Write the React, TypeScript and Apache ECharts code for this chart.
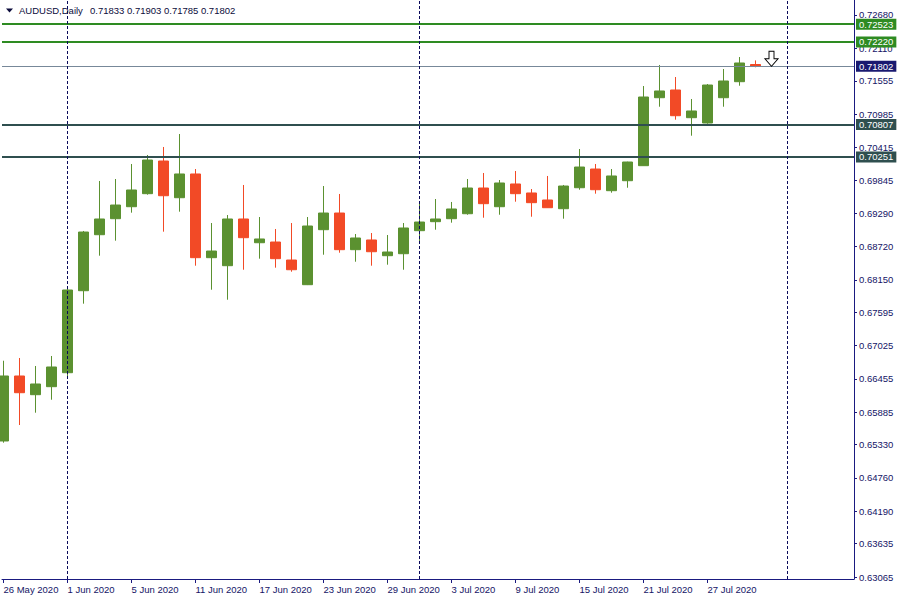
import { useEffect, useRef } from "react";
import * as echarts from "echarts";

// ---- data ----
const SYMBOL = "AUDUSD,Daily";
const DATES = [
  "26 May 2020", "27 May 2020", "28 May 2020", "29 May 2020",
  "1 Jun 2020", "2 Jun 2020", "3 Jun 2020", "4 Jun 2020", "5 Jun 2020",
  "8 Jun 2020", "9 Jun 2020", "10 Jun 2020", "11 Jun 2020", "12 Jun 2020",
  "15 Jun 2020", "16 Jun 2020", "17 Jun 2020", "18 Jun 2020", "19 Jun 2020",
  "22 Jun 2020", "23 Jun 2020", "24 Jun 2020", "25 Jun 2020", "26 Jun 2020",
  "29 Jun 2020", "30 Jun 2020", "1 Jul 2020", "2 Jul 2020", "3 Jul 2020",
  "6 Jul 2020", "7 Jul 2020", "8 Jul 2020", "9 Jul 2020", "10 Jul 2020",
  "13 Jul 2020", "14 Jul 2020", "15 Jul 2020", "16 Jul 2020", "17 Jul 2020",
  "20 Jul 2020", "21 Jul 2020", "22 Jul 2020", "23 Jul 2020", "24 Jul 2020",
  "27 Jul 2020", "28 Jul 2020", "29 Jul 2020", "30 Jul 2020",
];
const OPEN = [
  0.65392, 0.66504, 0.66184, 0.66321, 0.6656, 0.67963, 0.68921, 0.69195, 0.694, 0.69623,
  0.70182, 0.69554, 0.6996, 0.68528, 0.68391, 0.6919, 0.68784, 0.68796, 0.68488, 0.68066,
  0.69007, 0.69292, 0.68665, 0.68831, 0.68562, 0.68596, 0.6899, 0.69144, 0.69195, 0.6928,
  0.6972, 0.694, 0.69789, 0.69635, 0.69515, 0.69366, 0.69725, 0.70045, 0.69674, 0.69845,
  0.70102, 0.71265, 0.71397, 0.70923, 0.70832, 0.71265, 0.71539, 0.71833,
];
const HIGH = [
  0.66765, 0.66812, 0.66675, 0.66846, 0.68043, 0.68985, 0.6984, 0.69874, 0.70131, 0.70285,
  0.70422, 0.70644, 0.70045, 0.69121, 0.69258, 0.69772, 0.69224, 0.69019, 0.69121, 0.69224,
  0.69754, 0.69618, 0.68933, 0.6895, 0.68916, 0.69121, 0.69446, 0.69532, 0.69481, 0.69874,
  0.69977, 0.69857, 0.70011, 0.69703, 0.69926, 0.69772, 0.70387, 0.70131, 0.70045, 0.7017,
  0.71465, 0.71825, 0.71619, 0.71243, 0.71499, 0.71756, 0.71961, 0.71903,
];
const LOW = [
  0.65363, 0.65665, 0.65876, 0.66098, 0.66475, 0.67741, 0.68562, 0.68819, 0.69298, 0.69606,
  0.68973, 0.69315, 0.68391, 0.6798, 0.67809, 0.68322, 0.68511, 0.68357, 0.68288, 0.6806,
  0.68579, 0.68613, 0.68459, 0.68391, 0.68408, 0.68322, 0.68767, 0.69007, 0.69127, 0.69263,
  0.69212, 0.69263, 0.69486, 0.69229, 0.6938, 0.69195, 0.69691, 0.69623, 0.6964, 0.69725,
  0.701, 0.71111, 0.70889, 0.70615, 0.7082, 0.71111, 0.7147, 0.71785,
];
const CLOSE = [
  0.66504, 0.66218, 0.66367, 0.66658, 0.67975, 0.68967, 0.6919, 0.69429, 0.69686, 0.70199,
  0.69588, 0.6996, 0.68528, 0.68642, 0.6919, 0.6887, 0.68848, 0.68511, 0.68322, 0.6907,
  0.69292, 0.68665, 0.68865, 0.6863, 0.68625, 0.69036, 0.69138, 0.6919, 0.69361, 0.6972,
  0.69452, 0.69806, 0.69623, 0.69469, 0.69383, 0.69754, 0.70079, 0.69691, 0.69926, 0.70165,
  0.71277, 0.7138, 0.70957, 0.71038, 0.71482, 0.71551, 0.71859, 0.71802,
];
const Y_TICKS = [
  0.7268, 0.7211, 0.71555, 0.70985, 0.70415, 0.69845, 0.6929, 0.6872, 0.6815,
  0.67595, 0.67025, 0.66455, 0.65885, 0.6533, 0.6476, 0.6419, 0.63635, 0.63065,
];
const X_LABEL_INDEX = [0, 4, 8, 12, 16, 20, 24, 28, 32, 36, 40, 44];
const PERIOD_SEPARATORS = [4, 26, 49];
const LEVELS = [0.72523, 0.7222, 0.71802, 0.70807, 0.70251];
const SIGNAL_ARROW = { index: 48, price: 0.71802 };

// ---- styles ----
const FONT = "'Liberation Sans', Arial, sans-serif";
const AXIS = "#1a1a80";
const TXT = "#141466";
const BULL = "#5b9130";
const BEAR = "#f24a26";
const LEVEL_STYLES = [
  { line: "#2e8b22", width: 2, box: "#2e8b22" },
  { line: "#2e8b22", width: 2, box: "#2e8b22" },
  { line: "#778899", width: 1, box: "#191970" },
  { line: "#2f4f4f", width: 2, box: "#2f4f4f" },
  { line: "#2f4f4f", width: 2, box: "#2f4f4f" },
];
const Y_MIN = 0.630308;
const Y_MAX = 0.729366;
const X_MIN = -0.09375;
const X_MAX = 53.15625;

export default function App() {
  const ref = useRef<HTMLDivElement>(null);
  useEffect(() => {
    if (!ref.current) return;
    const chart = echarts.init(ref.current, null, { renderer: "svg" });
    const data = OPEN.map((o, i) => [i, o, CLOSE[i], LOW[i], HIGH[i]]);
    const last = OPEN.length - 1;
    const headerValues = [OPEN[last], HIGH[last], LOW[last], CLOSE[last]]
      .map((v) => v.toFixed(5))
      .join(" ");

    const markLineData: any[] = [];
    LEVELS.forEach((lv, i) => {
      const st = LEVEL_STYLES[i];
      markLineData.push({
        yAxis: lv,
        lineStyle: { color: st.line, width: st.width, type: "solid" },
        label: {
          show: true,
          position: "end",
          formatter: lv.toFixed(5),
          backgroundColor: st.box,
          color: "#ffffff",
          padding: [1, 3, 0, 3],
          distance: 2,
          fontSize: 9.5,
          fontFamily: FONT,
        },
      });
    });
    PERIOD_SEPARATORS.forEach((x) => {
      markLineData.push({
        xAxis: x,
        lineStyle: { color: "#0a0a5a", width: 1, type: [3, 2] },
        label: { show: false },
      });
    });

    const option: any = {
      animation: false,
      backgroundColor: "#ffffff",
      textStyle: { fontFamily: FONT },
      grid: { left: 2, right: 46, top: 0, bottom: 21 },
      xAxis: {
        type: "value",
        min: X_MIN,
        max: X_MAX,
        splitLine: { show: false },
        axisLine: { show: true, onZero: false, lineStyle: { color: AXIS, width: 1 } },
        axisTick: {
          show: true,
          length: 4,
          customValues: X_LABEL_INDEX,
          lineStyle: { color: AXIS },
        },
        axisLabel: {
          customValues: X_LABEL_INDEX,
          formatter: (v: number) => DATES[Math.round(v)] ?? "",
          align: "left",
          margin: 5,
          color: TXT,
          fontSize: 9.5,
          fontFamily: FONT,
        },
      },
      yAxis: {
        type: "value",
        position: "right",
        min: Y_MIN,
        max: Y_MAX,
        scale: true,
        splitLine: { show: false },
        axisLine: { show: true, onZero: false, lineStyle: { color: AXIS, width: 1 } },
        axisTick: {
          show: true,
          length: 3,
          customValues: Y_TICKS,
          lineStyle: { color: AXIS },
        },
        axisLabel: {
          customValues: Y_TICKS,
          formatter: (v: number) => v.toFixed(5),
          margin: 5,
          color: TXT,
          fontSize: 9.5,
          fontFamily: FONT,
        },
      },
      series: [
        {
          type: "candlestick",
          data,
          barWidth: 10,
          clip: true,
          silent: true,
          itemStyle: {
            color: BULL,
            color0: BEAR,
            borderColor: BULL,
            borderColor0: BEAR,
            borderWidth: 1,
          },
          markLine: {
            silent: true,
            symbol: ["none", "none"],
            precision: 5,
            animation: false,
            data: markLineData,
          },
          markPoint: {
            silent: true,
            animation: false,
            data: [
              {
                coord: [SIGNAL_ARROW.index, SIGNAL_ARROW.price],
                symbol: "path://M4,0 L9,0 L9,8 L13,8 L6.5,16 L0,8 L4,8 Z",
                symbolSize: [13, 15],
                symbolOffset: [0, "-50%"],
                itemStyle: { color: "#ffffff", borderColor: "#000000", borderWidth: 1 },
                label: { show: false },
              },
            ],
          },
        },
      ],
      graphic: [
        {
          type: "polygon",
          shape: { points: [[6, 8.5], [13, 8.5], [9.5, 12.5]] },
          style: { fill: "#0b0b3b" },
          z: 100,
        },
        {
          type: "text",
          x: 19,
          y: 10,
          z: 100,
          style: {
            text: SYMBOL,
            fill: "#0b0b3b",
            font: `9.5px ${FONT}`,
            verticalAlign: "middle",
          },
        },
        {
          type: "text",
          x: 90,
          y: 10,
          z: 100,
          style: {
            text: headerValues,
            fill: "#0b0b3b",
            font: `9.5px ${FONT}`,
            verticalAlign: "middle",
          },
        },
      ],
    };
    chart.setOption(option);
    return () => chart.dispose();
  }, []);
  return (
    <div
      ref={ref}
      style={{ position: "fixed", left: 0, top: 0, width: 900, height: 600, background: "#fff" }}
    />
  );
}
